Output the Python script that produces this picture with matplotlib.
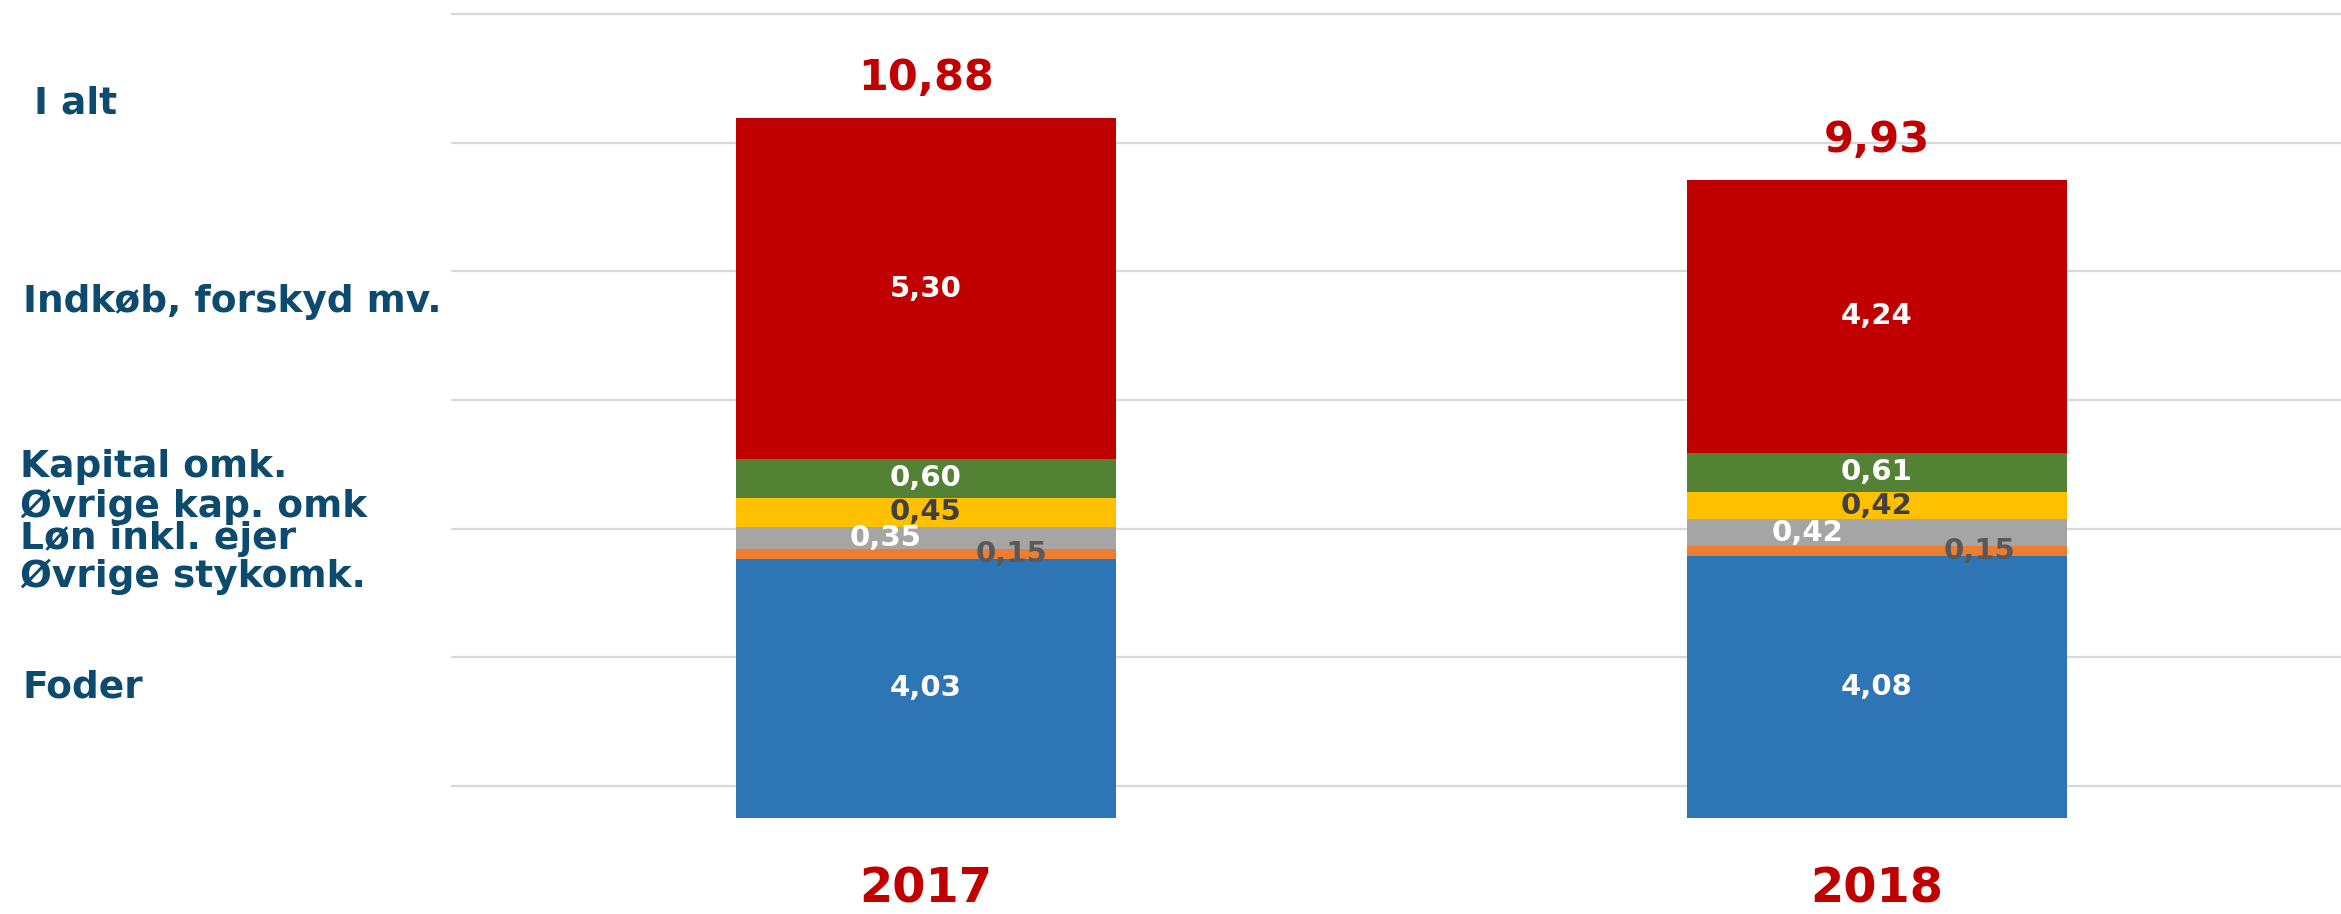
import matplotlib
matplotlib.use("Agg")
import matplotlib.pyplot as plt
import numpy as np

plt.rcParams['font.family'] = ['DejaVu Sans']

years = ["2017", "2018"]
categories = ["Foder", "Øvrige stykomk.", "Løn inkl. ejer", "Øvrige kap. omk",
              "Kapital omk.", "Indkøb, forskyd mv."]
foder = [4.03, 4.08]
oevrige_stykomk = [0.15, 0.15]
loen = [0.35, 0.42]
oevrige_kap = [0.45, 0.42]
kapital = [0.60, 0.61]
indkoeb = [5.30, 4.24]
totals = [10.88, 9.93]
series = [foder, oevrige_stykomk, loen, oevrige_kap, kapital, indkoeb]

colors = ["#2E75B6", "#ED7D31", "#A5A5A5", "#FFC000", "#548235", "#C00000"]
label_colors = ["white", "#595959", "white", "#404040", "white", "white"]
# horizontal label offsets (data units) per series, per year
label_dx = [[0, 0], [0.090, 0.108], [-0.043, -0.073], [0, 0], [0, 0], [0, 0]]

W, H = 2341, 914
fig = plt.figure(figsize=(W / 100, H / 100), dpi=100)
px_per_unit = 64.3
base_px = 818
ax = fig.add_axes([451 / W, (H - base_px) / H, (W - 451) / W, base_px / H])
ax.set_ylim(0, base_px / px_per_unit)
ax.set_xlim(-0.4995, 1.488)

x = np.arange(len(years))
bottom = np.zeros(len(years))
for i, vals in enumerate(series):
    vals = np.array(vals)
    ax.bar(x, vals, width=0.40, bottom=bottom, color=colors[i], zorder=3)
    for j in range(len(years)):
        ax.text(x[j] + label_dx[i][j], bottom[j] + vals[j] / 2,
                f"{vals[j]:.2f}".replace(".", ","), ha="center", va="center",
                fontsize=21, fontweight="bold", color=label_colors[i], zorder=4)
    bottom += vals

for j in range(len(years)):
    ax.annotate(f"{totals[j]:.2f}".replace(".", ","), (x[j], bottom[j]),
                xytext=(0, 29), textcoords="offset points", ha="center", va="center",
                fontsize=31, fontweight="bold", color="#C00000")
    ax.annotate(years[j], (x[j], 0), xytext=(0, -60.5), textcoords="offset points",
                ha="center", va="baseline", fontsize=34.5, fontweight="bold",
                color="#C00000", annotation_clip=False)

ax.set_yticks(np.arange(0.5, 13, 2.0))
ax.yaxis.grid(True, color="#D9D9D9", linewidth=1.6, zorder=0)
ax.set_axisbelow(True)
ax.tick_params(left=False, bottom=False, labelleft=False, labelbottom=False)
for s in ax.spines.values():
    s.set_visible(False)

# left legend-like labels (baseline px from top)
left_labels = ["I alt", "Indkøb, forskyd mv.", "Kapital omk.", "Øvrige kap. omk",
               "Løn inkl. ejer", "Øvrige stykomk.", "Foder"]
left_baselines = [113, 312, 477, 517, 549, 587, 697]
left_x = [34, 23, 20, 20, 20, 20, 23]
for t, yb, xl in zip(left_labels, left_baselines, left_x):
    fig.text(xl / W, 1 - yb / H, t, ha="left", va="baseline", fontsize=27,
             fontweight="bold", color="#0C4A6E")

fig.savefig("out.png", dpi=100)
